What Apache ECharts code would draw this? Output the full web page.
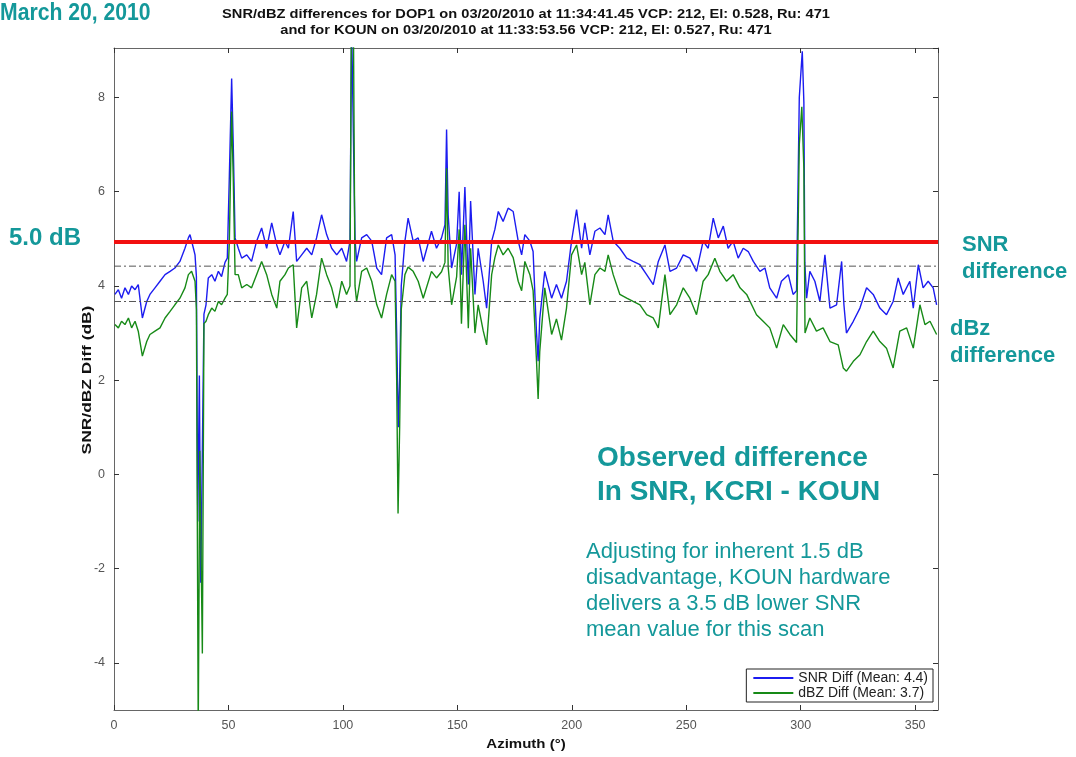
<!DOCTYPE html>
<html>
<head>
<meta charset="utf-8">
<script src="https://cdn.jsdelivr.net/npm/echarts@6/dist/echarts.min.js"></script>
<style>
html,body{margin:0;padding:0;background:#fff;}
#chart{width:1076px;height:757px;}
</style>
</head>
<body>
<div id="chart"></div>
<script>
// ---- Data ----
var xTicks = [0, 50, 100, 150, 200, 250, 300, 350];
var yTicks = [-4, -2, 0, 2, 4, 6, 8];

var snrAz = [0.4,1.9,3.3,4.8,6.3,7.7,9.2,10.6,12.4,14.3,15.7,17.9,20.1,22.3,24.5,26.6,28.8,31.0,32.5,33.2,34.7,35.4,
  36.0,36.6,37.3,37.9,38.6,39.3,40.2,41.2,42.7,44.1,45.6,47.0,48.5,49.5,50.4,51.4,52.1,52.9,
  54.3,55.8,58.0,60.1,62.3,64.5,66.7,68.9,71.1,72.5,74.7,76.2,78.3,79.8,82.0,84.2,86.4,88.5,90.7,92.9,95.1,97.3,99.5,101.6,103.1,
  103.8,104.6,105.3,106.0,108.2,110.4,112.6,114.8,116.9,119.1,121.3,122.8,123.5,124.2,124.8,125.5,
  127.1,128.5,130.7,132.9,135.1,138.7,140.9,143.1,144.6,145.3,146.0,147.5,149.7,150.8,151.8,153.3,154.8,155.8,157.7,159.1,161.3,162.8,
  165.0,166.4,167.9,170.0,172.2,174.4,176.6,178.1,179.5,181.7,183.1,184.6,185.3,186.0,188.2,191.2,193.3,195.5,197.7,199.9,
  202.1,204.3,205.7,207.9,210.1,212.3,214.5,215.9,218.1,221.0,224.0,226.8,229.8,232.7,235.6,237.8,240.7,242.9,245.8,248.7,251.6,
  254.5,257.4,259.6,261.8,264.0,266.2,268.3,270.5,272.7,274.9,277.1,279.3,282.2,284.4,286.5,289.5,291.6,294.6,296.7,298.2,
  299.4,300.7,301.4,301.8,302.6,304.0,306.2,308.4,310.6,312.8,315.7,317.9,318.9,320.0,323.0,325.9,328.8,331.7,334.6,337.5,
  340.4,342.6,344.8,347.7,349.2,351.4,353.5,355.7,357.9,359.4];
var snrVal = [3.82,3.92,3.74,3.96,3.82,4.00,3.92,4.03,3.32,3.67,3.82,3.96,4.10,4.24,4.31,4.38,4.52,4.80,5.02,5.09,4.80,4.66,
  4.20,-1.0,2.1,-2.3,0.5,3.4,3.6,4.17,4.24,4.10,4.31,4.20,4.50,4.59,6.35,8.40,7.00,5.02,
  4.80,4.59,4.66,4.52,4.95,5.23,4.80,5.34,4.87,4.66,4.95,4.80,5.58,4.52,4.66,4.80,4.66,5.02,5.51,5.09,4.80,4.66,4.80,4.52,4.95,
  9.6,9.6,5.0,4.52,5.02,5.09,4.95,4.38,4.24,5.02,5.09,4.66,3.0,1.0,2.0,4.0,
  4.95,5.44,4.95,5.02,4.52,5.16,4.80,5.02,5.30,7.32,5.50,4.38,4.90,6.00,4.24,6.10,4.03,5.80,3.82,4.80,4.10,3.53,
  4.95,5.20,5.58,5.37,5.65,5.58,4.95,4.66,5.09,4.95,4.73,3.00,2.40,3.30,4.31,3.74,4.03,3.74,4.10,4.95,
  5.62,4.80,5.34,4.66,5.16,5.23,5.09,5.51,4.95,4.80,4.59,4.52,4.45,4.24,4.03,4.52,4.87,4.31,4.38,4.66,4.59,
  4.31,4.95,4.80,5.44,5.02,5.27,4.80,4.95,4.59,4.80,4.73,4.52,4.31,4.38,3.96,3.74,4.10,4.24,3.82,3.90,
  8.00,8.98,7.90,4.50,3.74,4.31,4.10,3.67,4.66,3.53,3.60,4.52,3.60,3.00,3.25,3.53,3.96,3.82,3.53,3.39,
  3.67,4.17,3.82,4.10,3.53,4.45,3.96,4.10,3.96,3.60];

var dbzAz = [0.4,1.9,3.3,4.8,6.3,7.7,9.2,10.6,12.4,14.3,15.7,17.9,20.1,22.3,24.5,26.6,28.8,31.0,32.5,33.9,35.4,
  36.0,36.8,37.5,38.6,39.3,40.2,41.2,42.7,44.1,45.6,47.0,48.5,49.5,50.4,51.4,52.1,52.9,
  54.3,55.8,58.0,60.1,62.3,64.5,66.7,68.9,71.1,72.5,74.7,76.2,78.3,79.8,82.0,84.2,86.4,88.5,90.7,92.9,95.1,97.3,99.5,101.6,103.1,
  103.7,104.6,105.3,106.0,108.2,110.4,112.6,114.8,116.9,119.1,121.3,122.8,123.5,124.1,124.8,125.5,
  127.1,128.5,130.7,132.9,135.1,138.7,140.9,143.1,144.6,145.3,146.0,147.5,149.7,150.8,151.8,153.3,154.8,155.8,157.7,159.1,161.3,162.8,
  165.0,166.4,167.9,170.0,172.2,174.4,176.6,178.1,179.5,181.7,183.1,184.6,185.3,186.0,188.2,191.2,193.3,195.5,197.7,199.9,
  202.1,204.3,205.7,207.9,210.1,212.3,214.5,215.9,218.1,221.0,224.0,226.8,229.8,232.7,235.6,237.8,240.7,242.9,245.8,248.7,251.6,
  254.5,257.4,259.6,262.5,264.7,267.6,270.5,273.5,276.4,280.7,283.6,286.5,289.5,292.4,295.3,298.2,
  299.4,300.5,301.4,301.9,302.6,304.0,306.9,309.8,312.8,316.4,318.6,320.0,323.0,325.9,328.8,331.7,334.6,337.5,
  340.4,343.3,346.3,349.2,352.1,354.3,356.5,359.4];
var dbzVal = [3.18,3.11,3.25,3.18,3.32,3.11,3.25,3.04,2.51,2.82,2.97,3.04,3.11,3.32,3.46,3.60,3.74,3.96,4.24,4.31,4.10,
  3.50,-5.4,0.5,-3.8,3.2,3.25,3.39,3.53,3.46,3.67,3.60,3.74,3.82,4.95,7.70,6.30,4.24,
  4.24,3.96,4.03,3.96,4.24,4.52,4.24,3.82,3.53,4.10,4.24,4.38,4.45,3.11,3.96,4.10,3.32,3.82,4.59,4.24,3.96,3.53,4.10,3.82,4.00,
  9.6,9.6,4.0,3.67,4.31,4.38,4.10,3.60,3.32,3.82,4.24,4.10,2.0,-0.83,1.0,3.5,
  4.24,4.40,4.31,4.10,3.74,4.31,4.17,4.30,4.50,6.50,4.40,3.60,4.20,5.20,3.20,5.30,3.10,4.80,3.00,3.60,3.05,2.75,
  4.24,4.60,4.87,4.66,4.80,4.60,4.10,3.90,4.52,4.24,3.90,2.40,1.60,2.60,3.96,2.97,3.30,2.85,3.53,4.66,
  4.87,4.24,4.50,3.60,4.24,4.38,4.31,4.66,4.24,3.82,3.74,3.67,3.60,3.39,3.32,3.11,4.24,3.39,3.60,3.96,3.74,
  3.39,4.10,4.24,4.59,4.31,4.10,4.24,3.96,3.82,3.39,3.25,3.11,2.68,3.18,2.97,2.80,
  7.00,7.80,6.50,3.00,2.97,3.32,3.04,3.11,2.82,2.75,2.26,2.19,2.40,2.54,2.82,3.04,2.82,2.68,
  2.26,3.04,3.11,2.68,3.60,3.18,3.25,2.97];

var refLevel = 4.93;     // red "5.0 dB" line
var snrMean = 4.42;      // dash-dot mean line
var dbzMean = 3.67;      // dash-dot mean line
var titleLines = ['SNR/dBZ differences for DOP1 on 03/20/2010 at 11:34:41.45 VCP: 212, El: 0.528, Ru: 471',
                  'and for KOUN on 03/20/2010 at 11:33:53.56 VCP: 212, El: 0.527, Ru: 471'];
var seriesNames = ['SNR Diff (Mean: 4.4)', 'dBZ Diff (Mean: 3.7)'];
var xName = 'Azimuth (°)';
var yName = 'SNR/dBZ Diff (dB)';

// ---- Build chart ----
function pairs(xs, ys){ return xs.map(function(x,i){ return [x, ys[i]]; }); }
var teal = '#14989a';
var chart = echarts.init(document.getElementById('chart'));
var font = '"Liberation Sans", Arial, sans-serif';

function boxAxis(extra){
  var a = {
    type: 'value',
    axisLine: { show: true, onZero: false, lineStyle: { color: '#666' } },
    axisTick: { show: true, inside: true, length: 5, lineStyle: { color: '#333' } },
    splitLine: { show: false }
  };
  for (var k in extra) a[k] = extra[k];
  return a;
}

var option = {
  animation: false,
  backgroundColor: '#fff',
  textStyle: { fontFamily: font },
  grid: { left: 114, right: 138, top: 48, bottom: 47, containLabel: false },
  legend: {
    data: seriesNames,
    orient: 'vertical',
    right: 143, bottom: 55,
    backgroundColor: '#fff',
    borderColor: '#222', borderWidth: 1,
    padding: [2, 5, 2, 7],
    itemGap: 1,
    itemWidth: 40, itemHeight: 2,
    icon: 'rect',
    textStyle: { fontSize: 14, color: '#222', fontFamily: font }
  },
  xAxis: [
    boxAxis({ min: 0, max: 360, interval: 50,
      axisLabel: { show: true, color: '#555', fontSize: 12.5, margin: 9, showMaxLabel: false,
        formatter: function(v){ return xTicks.indexOf(v) >= 0 ? String(v) : ''; } } }),
    boxAxis({ min: 0, max: 360, interval: 50, position: 'top', axisLabel: { show: false } })
  ],
  yAxis: [
    boxAxis({ min: -5, max: 9.05, splitNumber: 7,
      axisLabel: { show: true, color: '#555', fontSize: 12.5, margin: 9, showMinLabel: false, showMaxLabel: false,
        formatter: function(v){ return yTicks.indexOf(v) >= 0 ? String(v) : ''; } } }),
    boxAxis({ min: -5, max: 9.05, splitNumber: 7, position: 'right', axisLabel: { show: false } })
  ],
  series: [
    { name: seriesNames[0], type: 'line', data: pairs(snrAz, snrVal), showSymbol: false,
      color: '#1c1cf0', lineStyle: { width: 1.4, color: '#1c1cf0' }, clip: true, z: 3 },
    { name: seriesNames[1], type: 'line', data: pairs(dbzAz, dbzVal), showSymbol: false,
      color: '#178a17', lineStyle: { width: 1.4, color: '#178a17' }, clip: true, z: 4 },
    { name: 'snrMean', type: 'line', data: [[0, snrMean], [360, snrMean]], showSymbol: false, silent: true,
      lineStyle: { width: 1, color: '#555', type: [7, 3, 2, 3] }, z: 5 },
    { name: 'dbzMean', type: 'line', data: [[0, dbzMean], [360, dbzMean]], showSymbol: false, silent: true,
      lineStyle: { width: 1, color: '#555', type: [7, 3, 2, 3] }, z: 5 },
    { name: 'ref', type: 'line', data: [[0, refLevel], [360, refLevel]], showSymbol: false, silent: true,
      lineStyle: { width: 4, color: '#f21010' }, z: 6 }
  ],
  graphic: [
    { type: 'text', x: 526, y: 15, scaleX: 1.22, style: { text: titleLines[0], textAlign: 'center', textVerticalAlign: 'middle',
      fill: '#111', font: 'bold 12px ' + font } },
    { type: 'text', x: 526, y: 31, scaleX: 1.22, style: { text: titleLines[1], textAlign: 'center', textVerticalAlign: 'middle',
      fill: '#111', font: 'bold 12px ' + font } },
    { type: 'text', x: 526, y: 745, scaleX: 1.25, style: { text: xName, textAlign: 'center', textVerticalAlign: 'middle',
      fill: '#111', font: 'bold 12px ' + font } },
    { type: 'text', x: 88, y: 380, rotation: Math.PI / 2, scaleX: 1.45, style: { text: yName, textAlign: 'center', textVerticalAlign: 'middle',
      fill: '#111', font: 'bold 12px ' + font } },
    { type: 'text', x: 0, y: 2, scaleX: 0.92, style: { text: 'March 20, 2010', fill: teal,
      font: 'bold 23px "Liberation Sans Narrow", "Arial Narrow", "Liberation Sans", sans-serif' } },
    { type: 'text', left: 9, top: 226, style: { text: '5.0 dB', fill: teal, font: 'bold 24px ' + font } },
    { type: 'text', left: 962, top: 231, style: { text: 'SNR\ndifference', fill: teal, lineHeight: 27,
      font: 'bold 22px ' + font } },
    { type: 'text', left: 950, top: 315, style: { text: 'dBz\ndifference', fill: teal, lineHeight: 27,
      font: 'bold 22px ' + font } },
    { type: 'text', left: 597, top: 441, style: { text: 'Observed difference\nIn SNR, KCRI - KOUN', fill: teal, lineHeight: 34,
      font: 'bold 28px ' + font } },
    { type: 'text', left: 586, top: 539, style: { text: 'Adjusting for inherent 1.5 dB\ndisadvantage, KOUN hardware\ndelivers a 3.5 dB lower SNR\nmean value for this scan',
      fill: teal, lineHeight: 26, font: '22px ' + font } }
  ]
};
chart.setOption(option);
</script>
</body>
</html>
